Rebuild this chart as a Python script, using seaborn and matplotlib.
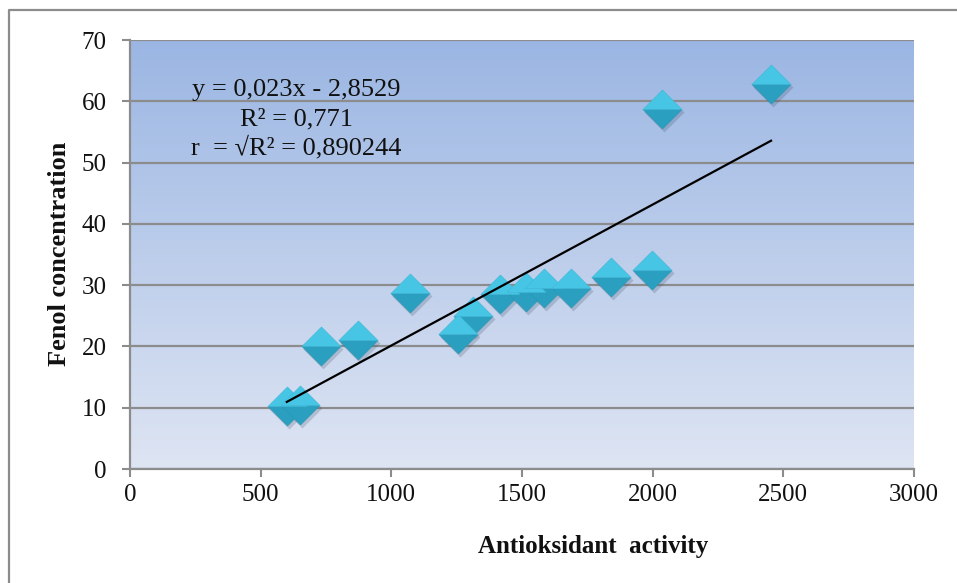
import numpy as np
import pandas as pd
import matplotlib
matplotlib.use("Agg")
import matplotlib.pyplot as plt
import seaborn as sns
from matplotlib.path import Path
from matplotlib import transforms
from matplotlib.lines import Line2D

# ---- data ----
antioxidant = [600, 652, 730, 872, 1072, 1255, 1313, 1416, 1515, 1586, 1688, 1840, 1996, 2035, 2453]
fenol = [10.3, 10.5, 20.0, 21.0, 28.7, 22.1, 25.0, 28.6, 28.8, 29.5, 29.6, 31.3, 32.4, 58.8, 62.8]
trend_slope = 0.023
trend_intercept = -2.8529
equation_lines = ["y = 0,023x - 2,8529", "R\u00b2 = 0,771", "r  = \u221aR\u00b2 = 0,890244"]
x_ticks = [0, 500, 1000, 1500, 2000, 2500, 3000]
y_ticks = [0, 10, 20, 30, 40, 50, 60, 70]
x_label = "Antioksidant  activity"
y_label = "Fenol concentration"

df = pd.DataFrame({"x": antioxidant, "y": fenol})

plt.rcParams["font.family"] = ["Liberation Serif", "DejaVu Serif"]

fig = plt.figure(figsize=(9.57, 5.83), dpi=100)
ax = fig.add_axes([130 / 957, 1 - 469 / 583, 784 / 957, 429 / 583])

# gradient plot area background
t = np.linspace(0, 1, 256)[:, None, None]
top = np.array([155, 182, 227]) / 255
bot = np.array([222, 229, 243]) / 255
img = top * (1 - t) + bot * t
ax.imshow(img, extent=[0, 1, 0, 1], transform=ax.transAxes, aspect="auto",
          zorder=0, interpolation="bicubic")

# marker shapes
top_tri = Path([(-1, 0), (0, 1), (1, 0), (-1, 0)],
               [Path.MOVETO, Path.LINETO, Path.LINETO, Path.CLOSEPOLY])
bot_tri = Path([(-1, 0), (0, -1), (1, 0), (-1, 0)],
               [Path.MOVETO, Path.LINETO, Path.LINETO, Path.CLOSEPOLY])
diamond = Path([(-1, 0), (0, 1), (1, 0), (0, -1), (-1, 0)],
               [Path.MOVETO, Path.LINETO, Path.LINETO, Path.LINETO, Path.CLOSEPOLY])

msize = 790
shadow_tr = transforms.offset_copy(ax.transData, fig=fig, x=2, y=-3, units="dots")
sns.scatterplot(data=df, x="x", y="y", marker=diamond, s=msize * 1.05, color="#3a4a60",
                alpha=0.22, linewidth=0, transform=shadow_tr, zorder=3, ax=ax)
sns.scatterplot(data=df, x="x", y="y", marker=bot_tri, s=msize, color="#2B9FC0",
                edgecolor="#2794B3", linewidth=0.4, zorder=4, ax=ax)
sns.scatterplot(data=df, x="x", y="y", marker=top_tri, s=msize, color="#47C5E5",
                edgecolor="#3DB6D6", linewidth=0.4, zorder=4, ax=ax)

# trendline from stated equation
tx = [min(antioxidant), max(antioxidant)]
ty = [trend_slope * v + trend_intercept for v in tx]
sns.lineplot(x=tx, y=ty, color="black", linewidth=1.6, zorder=5, ax=ax)

ax.set_xlim(0, 3000)
ax.set_ylim(0, 70)
ax.set_xticks(x_ticks)
ax.set_yticks(y_ticks)
ax.set_xticklabels([str(v) for v in x_ticks])
ax.set_yticklabels([str(v) for v in y_ticks])

grey = "#8C8C8C"
ax.grid(axis="y", color=grey, linewidth=1.6, zorder=1)
ax.grid(axis="x", visible=False)
for s in ["top", "right"]:
    ax.spines[s].set_visible(False)
for s in ["left", "bottom"]:
    ax.spines[s].set_color(grey)
    ax.spines[s].set_linewidth(1.6)
ax.tick_params(axis="both", direction="out", length=6, width=1.5, color=grey,
               labelsize=18, labelcolor="#111111")
ax.tick_params(axis="y", pad=11)
ax.tick_params(axis="x", pad=5)

ax.set_xlabel(x_label, fontsize=18, fontweight="bold", va="center", color="#111111")
ax.set_ylabel(y_label, fontsize=19, fontweight="bold", va="center", color="#111111")
ax.xaxis.set_label_coords((593 - 130) / 784, (469 - 546) / 429)
ax.yaxis.set_label_coords((60 - 130) / 784, (469 - 254) / 429)

# equation annotation
eq_pos = [(296, 90), (296, 119), (296, 148)]
for txt, (px, py) in zip(equation_lines, eq_pos):
    fig.text(px / 957, 1 - py / 583, txt, ha="center", va="center", fontsize=19,
             color="#111111")

# outer frame (partial, as in the reference crop)
fig.add_artist(Line2D([9 / 957, 9 / 957, 1.0], [0.0, 1 - 10 / 583, 1 - 10 / 583],
                      transform=fig.transFigure, color=grey, linewidth=1.6))

fig.savefig("out.png", dpi=100)
